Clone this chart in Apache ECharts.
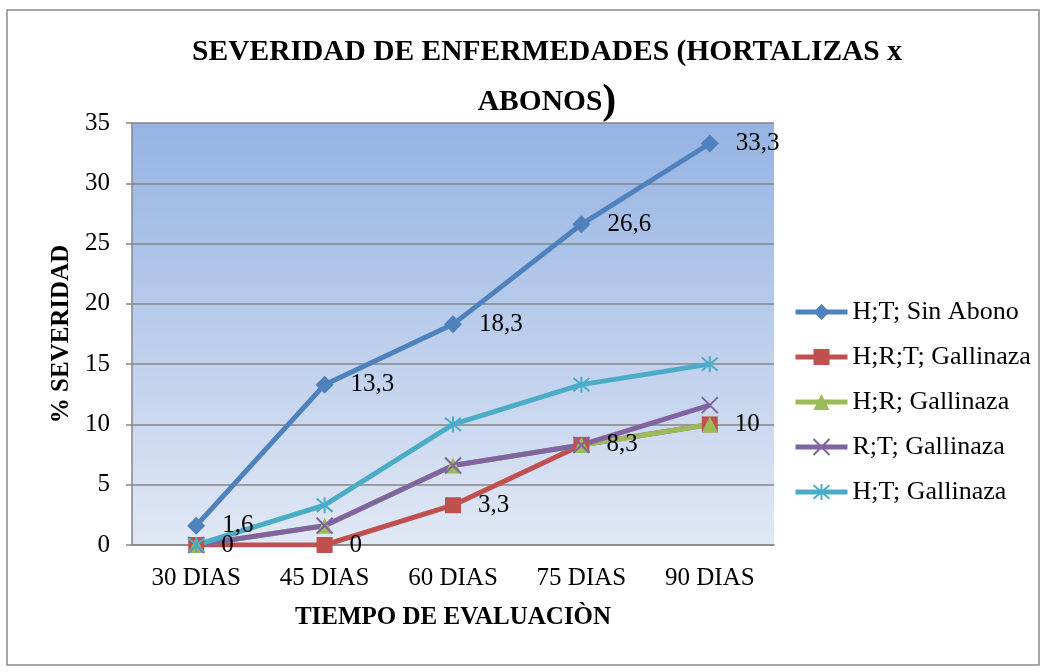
<!DOCTYPE html>
<html>
<head>
<meta charset="utf-8">
<script src="https://cdn.jsdelivr.net/npm/echarts@6/dist/echarts.min.js"></script>
<style>
	html, body { margin: 0; padding: 0; background: #fff; }
	#chart { width: 1046px; height: 672px; }
</style>
</head>
<body>
<div id="chart"></div>
<script>
var categories = ['30 DIAS', '45 DIAS', '60 DIAS', '75 DIAS', '90 DIAS'];
var seriesNames = ['H;T; Sin Abono', 'H;R;T; Gallinaza', 'H;R; Gallinaza', 'R;T; Gallinaza', 'H;T; Gallinaza'];
var sinAbono = [1.6, 13.3, 18.3, 26.6, 33.3];
var hrtGallinaza = [0, 0, 3.3, 8.3, 10];
var hrGallinaza = [0, 1.6, 6.6, 8.3, 10];
var rtGallinaza = [0, 1.6, 6.6, 8.3, 11.6];
var htGallinaza = [0, 3.3, 10, 13.3, 15];
var yMin = 0, yMax = 35, yStep = 5;

var FONT = "'Liberation Serif', 'Times New Roman', serif";
var colors = ['#4f81bd', '#c0504d', '#9bbb59', '#8064a2', '#4bacc6'];
var symbols = [
	'diamond',
	'rect',
	'triangle',
	'path://M0,0L10,10M10,0L0,10',
	'path://M0,0L10,10M10,0L0,10M5,-1L5,11'
];
var sizes = [18, 16, 16, 16, 16];

function commaLabel(p) {
	return String(p.value).replace('.', ',');
}

function makeSeries(i, data, showLabel) {
	var stroked = symbols[i].indexOf('path://') === 0;
	return {
		name: seriesNames[i],
		type: 'line',
		data: data,
		symbol: symbols[i],
		symbolSize: sizes[i],
		lineStyle: { width: 5, color: colors[i] },
		itemStyle: {
			color: colors[i],
			borderColor: colors[i],
			borderWidth: stroked ? 2 : 0
		},
		label: {
			show: showLabel,
			position: 'right',
			distance: 17,
			color: '#000',
			fontFamily: FONT,
			fontSize: 25,
			formatter: commaLabel
		},
		emphasis: { disabled: true },
		animation: false
	};
}

var chart = echarts.init(document.getElementById('chart'));
chart.setOption({
	color: colors,
	title: {
		text: 'SEVERIDAD DE ENFERMEDADES (HORTALIZAS x\nABONOS{p|)}',
		left: 542,
		top: 22,
		textAlign: 'center',
		textStyle: {
			fontFamily: FONT,
			fontWeight: 'bold',
			fontSize: 29.5,
			lineHeight: 50,
			color: '#000',
			rich: {
				p: { fontFamily: FONT, fontSize: 42, color: '#000', lineHeight: 50 }
			}
		}
	},
	legend: {
		orient: 'vertical',
		left: 788,
		top: 294,
		itemWidth: 52,
		itemHeight: 20,
		itemGap: 19,
		lineStyle: { width: 5 },
		textStyle: { fontFamily: FONT, fontSize: 26, color: '#000' },
		data: seriesNames
	},
	grid: {
		left: 132,
		top: 123,
		right: 272,
		bottom: 127,
		show: true,
		borderWidth: 0,
		backgroundColor: {
			type: 'linear', x: 0, y: 0, x2: 0, y2: 1,
			colorStops: [
				{ offset: 0, color: '#95b3e3' },
				{ offset: 1, color: '#e1e8f5' }
			]
		}
	},
	xAxis: {
		type: 'category',
		data: categories,
		boundaryGap: true,
		name: 'TIEMPO DE EVALUACIÒN',
		nameLocation: 'middle',
		nameGap: 60,
		nameTextStyle: { fontFamily: FONT, fontWeight: 'bold', fontSize: 25, color: '#000' },
		axisLine: { lineStyle: { color: '#868686', width: 1.5 } },
		axisTick: { show: false },
		axisLabel: { fontFamily: FONT, fontSize: 25, color: '#000', margin: 21 }
	},
	yAxis: {
		type: 'value',
		min: yMin,
		max: yMax,
		interval: yStep,
		name: '% SEVERIDAD',
		nameLocation: 'middle',
		nameRotate: 90,
		nameGap: 58,
		nameTextStyle: { fontFamily: FONT, fontWeight: 'bold', fontSize: 25, color: '#000' },
		axisLine: { show: true, lineStyle: { color: '#868686', width: 1.5 } },
		axisTick: { show: true, length: 6, lineStyle: { color: '#868686', width: 1.5 } },
		axisLabel: { fontFamily: FONT, fontSize: 25, color: '#000', margin: 22 },
		splitLine: { lineStyle: { color: '#868686', width: 1.5 } }
	},
	graphic: [{
		type: 'rect',
		shape: { x: 7, y: 10, width: 1032, height: 655 },
		style: { fill: 'none', stroke: '#898989', lineWidth: 1.5 },
		silent: true
	}],
	series: [
		makeSeries(0, sinAbono, true),
		makeSeries(1, hrtGallinaza, true),
		makeSeries(2, hrGallinaza, false),
		makeSeries(3, rtGallinaza, false),
		makeSeries(4, htGallinaza, false)
	]
});
</script>
</body>
</html>
